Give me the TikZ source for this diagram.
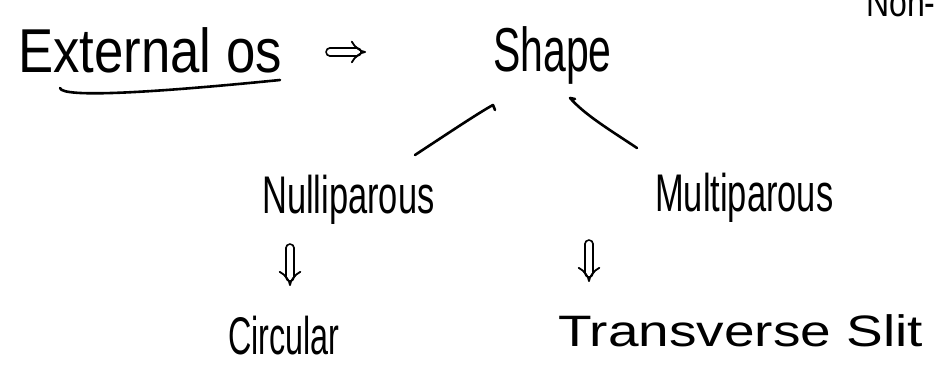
\documentclass[tikz,border=0pt]{standalone}
\usepackage{fontspec}
\setmainfont{Liberation Sans}
\usetikzlibrary{arrows.meta}
\tikzset{
  hand/.style={inner sep=0pt, anchor=base west, text=black},
  pen/.style={line width=2.6pt, line cap=round, line join=round, black},
  dbl/.style={line width=1.8pt, double distance=6pt, line cap=round, -{Implies[length=10pt, width=24pt]}, black}
}
\begin{document}
\begin{tikzpicture}[x=1pt,y=-1pt]
\useasboundingbox (0,0) rectangle (946,387);
\clip (0,0) rectangle (946,387);
\fill[white] (0,0) rectangle (946,387);
% texts
\node[hand, font=\fontsize{62}{62}\selectfont] (ext) at (18,73) {\scalebox{0.85}[1]{External os}};
\node[hand, font=\fontsize{62}{62}\selectfont] (shape) at (493,72) {\scalebox{0.66}[1]{Shape}};
\node[hand, font=\fontsize{53}{53}\selectfont] (nul) at (262,214) {\scalebox{0.65}[1]{Nulliparous}};
\node[hand, font=\fontsize{53}{53}\selectfont] (mul) at (655,212) {\scalebox{0.65}[1]{Multiparous}};
\node[hand, font=\fontsize{53}{53}\selectfont] (circ) at (228,355) {\scalebox{0.61}[1]{Circular}};
\node[hand, font=\fontsize{44}{44}\selectfont] (trans) at (558,347) {\scalebox{1.25}[1]{Transverse Slit}};
\node[hand, font=\fontsize{40}{40}\selectfont] (non) at (866,17) {\scalebox{0.8}[1]{Non-}};
% underline
\coordinate (u1) at (60,88);
\coordinate (u2) at (280,80);
\draw[pen] (u1) .. controls (62,98) and (150,93) .. (u2);
% implies arrow
\coordinate (i1) at (330,52);
\coordinate (i2) at (366,52);
\draw[dbl] (i1) -- (i2);
% branch lines
\coordinate (l1) at (415,155);
\coordinate (l2) at (493,105);
\draw[pen] (l1) .. controls (450,132) and (480,112) .. (l2) -- (495,110);
\coordinate (r1) at (637,148);
\coordinate (r2) at (570,98);
\draw[pen] (r1) .. controls (610,130) and (585,115) .. (r2) -- (575,99);
% down double arrows
\coordinate (d1) at (290,248);
\coordinate (d2) at (290,286);
\draw[dbl] (d1) -- (d2);
\coordinate (e1) at (589,244);
\coordinate (e2) at (589,282);
\draw[dbl] (e1) -- (e2);
\end{tikzpicture}
\end{document}
